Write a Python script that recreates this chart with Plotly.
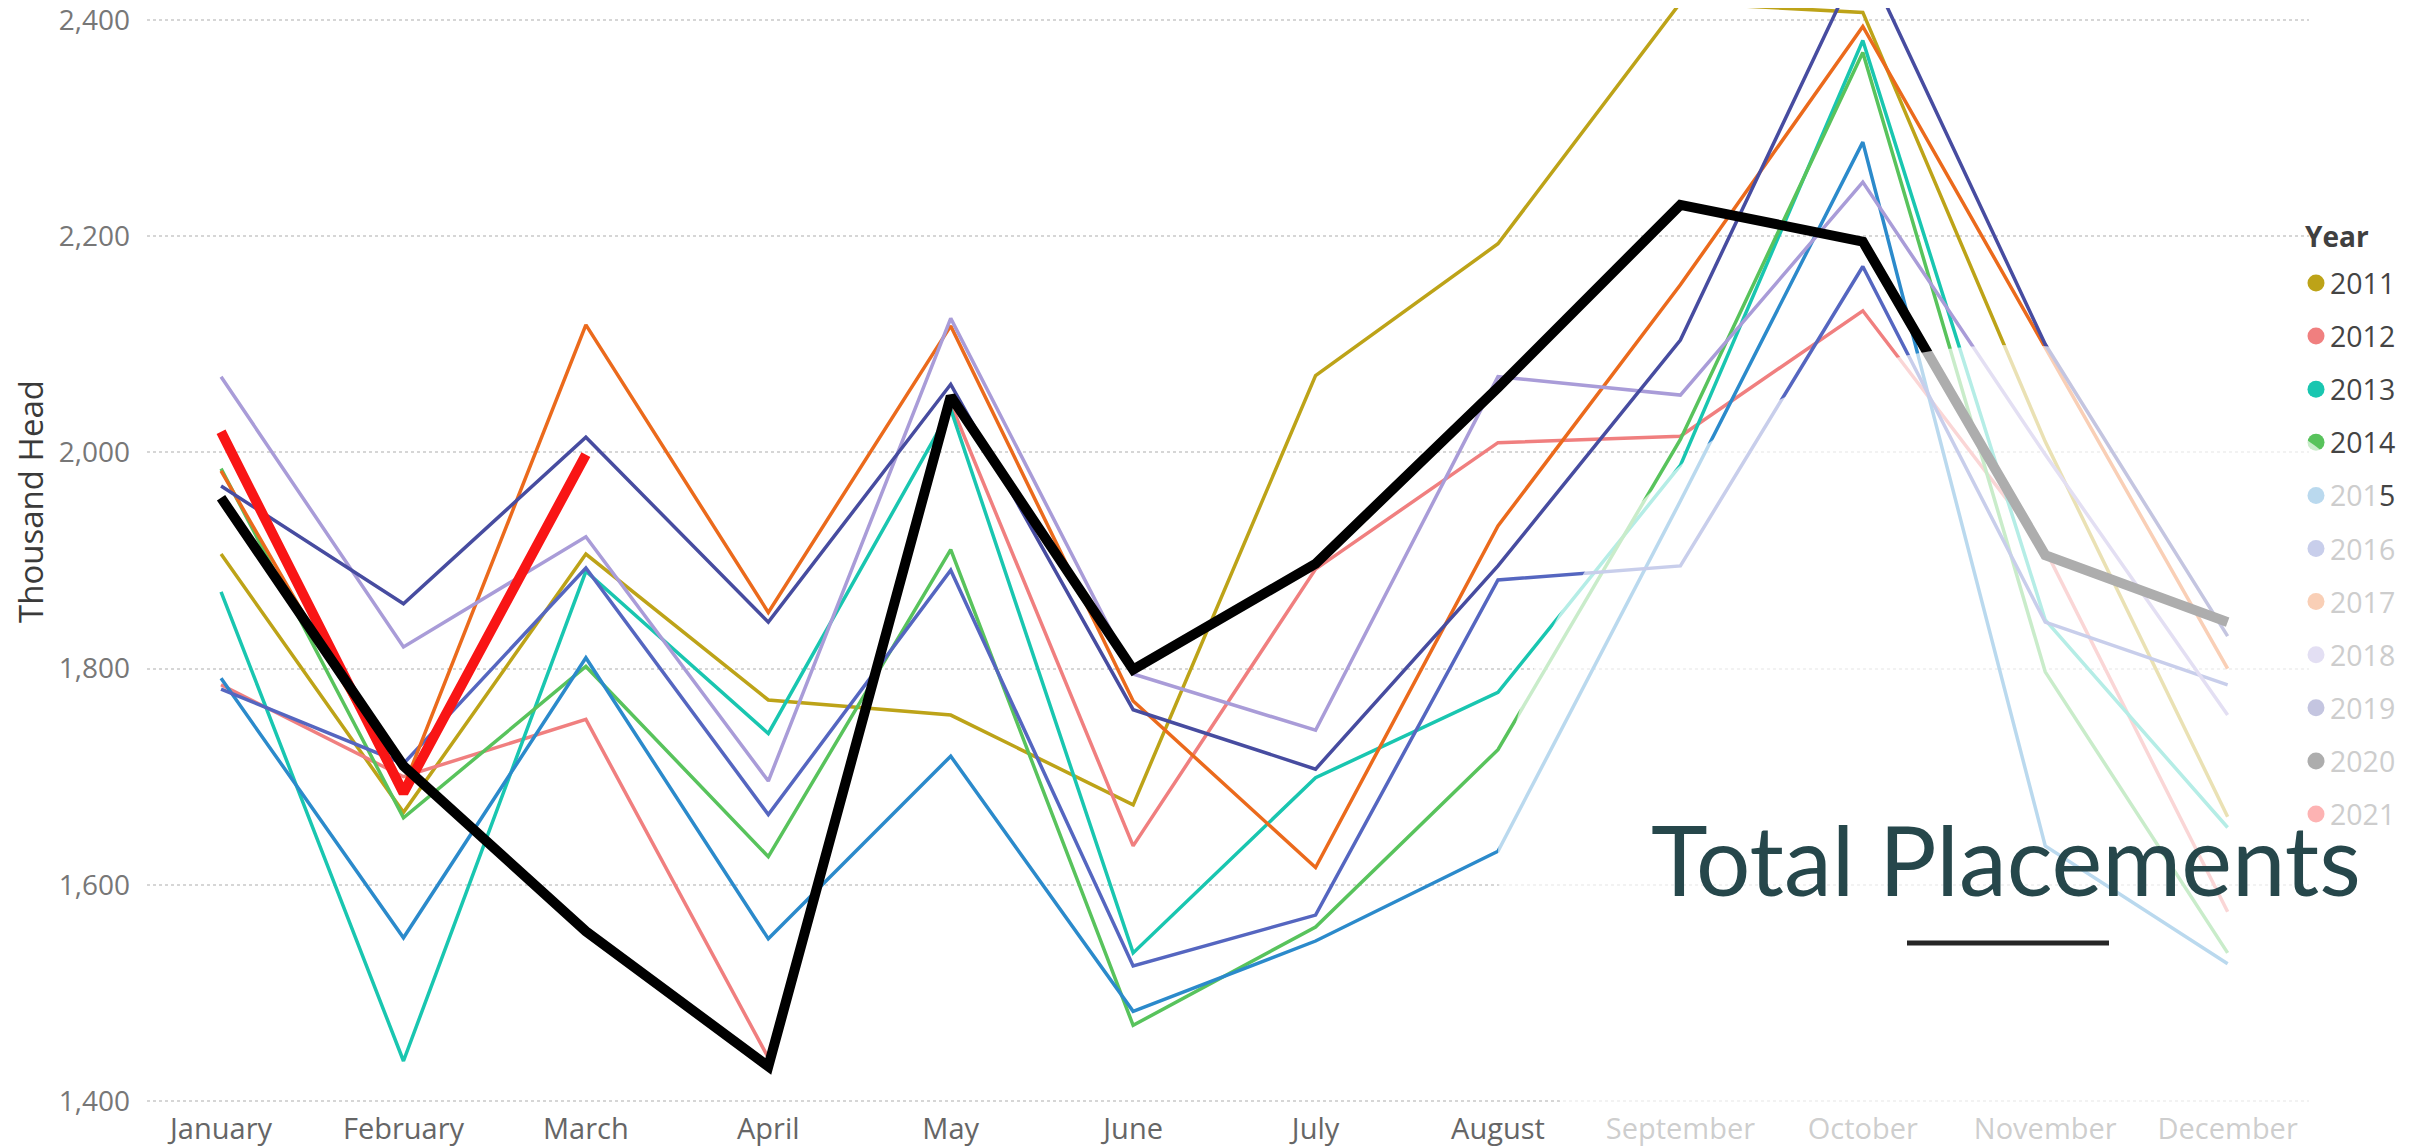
import plotly.graph_objects as go

months = ["January", "February", "March", "April", "May", "June", "July",
          "August", "September", "October", "November", "December"]

y2011 = [1906, 1667, 1906, 1771, 1757, 1674, 2071, 2193, 2416, 2407, 2010, 1663]
y2012 = [1785, 1700, 1753, 1440, 2045, 1636, 1892, 2009, 2015, 2131, 1910, 1575]
y2013 = [1871, 1437, 1890, 1740, 2040, 1537, 1699, 1778, 1988, 2381, 1845, 1653]
y2014 = [1985, 1662, 1802, 1626, 1910, 1470, 1561, 1725, 2012, 2370, 1797, 1537]
y2015 = [1791, 1551, 1810, 1550, 1719, 1483, 1548, 1631, 1955, 2287, 1636, 1527]
y2016 = [1781, 1712, 1893, 1665, 1891, 1525, 1572, 1882, 1895, 2172, 1843, 1785]
y2017 = [1983, 1690, 2118, 1852, 2117, 1770, 1616, 1932, 2155, 2394, 2097, 1800]
y2018 = [2070, 1820, 1922, 1696, 2124, 1795, 1743, 2070, 2053, 2250, 1998, 1757]
y2019 = [1969, 1860, 2014, 1843, 2063, 1762, 1707, 1895, 2104, 2460, 2100, 1830]
y2020 = [1958, 1710, 1557, 1432, 2052, 1799, 1897, 2060, 2229, 2195, 1905, 1843]
y2021 = [2019, 1685, 1998, None, None, None, None, None, None, None, None, None]

years = ["2011", "2012", "2013", "2014", "2015", "2016", "2017", "2018", "2019", "2020", "2021"]
series = [y2011, y2012, y2013, y2014, y2015, y2016, y2017, y2018, y2019, y2020, y2021]
colors = ["#BDA318", "#F07F7F", "#19C6B0", "#58C35C", "#2B8ACB", "#5566C0",
          "#EB6A1C", "#A99CD8", "#474CA0", "#000000", "#F91515"]
widths = [3.5] * 9 + [10, 10]

# The page body adds an 8px margin, so screen coords = figure coords + 8.
OFF = 8
FIG_W, FIG_H = 2422, 1146
L, R, T, B = 147 - OFF, 2309 - OFF, 0, 1110 - OFF   # plot area in figure px
W, H = R - L, B - T


def px(xs):   # screen x -> paper
    return (xs - OFF - L) / W


def py(ys):   # screen y -> paper
    return 1 - (ys - OFF - T) / H


# y axis: 2400 at screen y=20, 1400 at screen y=1101
k = (1101 - 20) / 1000.0
y_top = 2400 + ((20 - OFF) - T) / k
y_bot = 1400 - (B - (1101 - OFF)) / k

fig = go.Figure()
order = list(range(9)) + [10, 9]
for i in order:
    fig.add_trace(go.Scatter(
        x=months, y=series[i], name=years[i], mode="lines",
        line=dict(color=colors[i], width=widths[i]),
        connectgaps=False, showlegend=False))

shapes = []
annotations = []

# legend markers (drawn under the fade overlay)
leg_y0, leg_dy = 283, 53.1
for j, yr in enumerate(years):
    yy = leg_y0 + j * leg_dy
    shapes.append(dict(type="circle", xref="paper", yref="paper",
                       xsizemode="pixel", ysizemode="pixel",
                       xanchor=px(2316), yanchor=py(yy),
                       x0=-8.5, x1=8.5, y0=-8.5, y1=8.5,
                       fillcolor=colors[j], line=dict(width=0), layer="above"))

# fade overlay (circular wipe)
shapes.append(dict(type="circle", xref="paper", yref="paper",
                   xsizemode="pixel", ysizemode="pixel",
                   xanchor=px(2010), yanchor=py(857),
                   x0=-512, x1=512, y0=-512, y1=512,
                   fillcolor="rgba(255,255,255,0.68)", line=dict(width=0), layer="above"))

# underline under the title
shapes.append(dict(type="line", xref="paper", yref="paper",
                   x0=px(1907), x1=px(2109), y0=py(943), y1=py(943),
                   line=dict(color="#262626", width=5), layer="above"))

dark_txt = "#444444"
light_txt = "#cdcdcd"
for j, yr in enumerate(years):
    yy = leg_y0 + j * leg_dy
    if j < 4:
        txt, col = yr, dark_txt
    elif j == 4:
        txt = "<span style='color:%s'>201</span><span style='color:%s'>5</span>" % (light_txt, dark_txt)
        col = light_txt
    else:
        txt, col = yr, light_txt
    annotations.append(dict(text=txt, xref="paper", yref="paper",
                            x=px(2329), y=py(yy), xanchor="left", yanchor="middle",
                            showarrow=False, borderpad=0,
                            font=dict(size=28.5, color=col, family="Open Sans")))

annotations.append(dict(text="<b>Year</b>", xref="paper", yref="paper",
                        x=px(2304), y=py(236), xanchor="left", yanchor="middle",
                        showarrow=False, borderpad=0,
                        font=dict(size=28, color="#404040", family="Open Sans")))

annotations.append(dict(text="Thousand Head", xref="paper", yref="paper",
                        x=px(30), y=py(502), xanchor="center", yanchor="middle",
                        textangle=-90, showarrow=False,
                        font=dict(size=33, color="#3a3a3a", family="Open Sans")))

annotations.append(dict(text="Total Placements", xref="paper", yref="paper",
                        x=px(1650), y=py(858), xanchor="left", yanchor="middle",
                        showarrow=False, borderpad=0,
                        font=dict(size=96, color="#26474B", family="Lato")))

fig.update_layout(
    width=FIG_W, height=FIG_H,
    margin=dict(l=L, r=FIG_W - R, t=T, b=FIG_H - B, autoexpand=False),
    paper_bgcolor="white", plot_bgcolor="white",
    showlegend=False,
    font=dict(family="Open Sans"),
    shapes=shapes, annotations=annotations,
    xaxis=dict(type="category", range=[-0.406, 11.446], showgrid=False,
               showline=False, zeroline=False, ticks="",
               ticklabelstandoff=-1, ticklabeloverflow="allow",
               tickfont=dict(size=29, color="#666666"), automargin=False),
    yaxis=dict(range=[y_bot, y_top], tickvals=[1400, 1600, 1800, 2000, 2200, 2400],
               tickformat=",", showgrid=True, gridcolor="#d6d6d6", gridwidth=1.5,
               griddash="dot", zeroline=False, showline=False, ticks="",
               ticklabelstandoff=16, ticklabeloverflow="allow",
               tickfont=dict(size=28, color="#777777"), automargin=False),
)

fig.write_html("out.html")
